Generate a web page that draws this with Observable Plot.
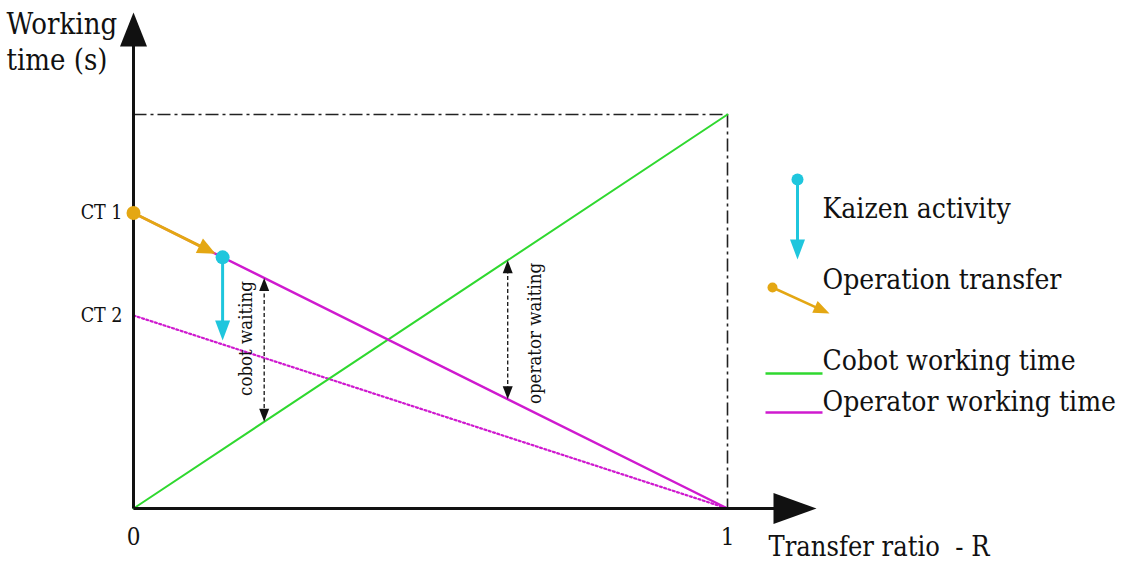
<!DOCTYPE html>
<html><head><meta charset="utf-8">
<script src="https://cdn.jsdelivr.net/npm/d3@7"></script>
<script src="https://cdn.jsdelivr.net/npm/@observablehq/plot@0.6"></script>
<style>html,body{margin:0;padding:0;background:#fff;} #chart svg{display:block;} #chart svg text{font-stretch:condensed;}</style>
</head><body><div id="chart"></div>
<script>
// ---- data ----
const xTicks = [0, 1];
const xTickLabels = ["0", "1"];
const ctNames = ["CT 1", "CT 2"];
const ctValues = [0.75, 0.49];          // cycle time before / after kaizen
const cobotTime = [0, 1];               // cobot working time at R=0, R=1
const operatorTime = [0.75, 0];         // operator working time at R=0, R=1
const improvedOperatorTime = [0.49, 0]; // after kaizen
const transferR = 0.15;                 // operation transfer point
const cobotWaitR = 0.22;
const operatorWaitR = 0.63;
const seriesNames = ["Cobot working time", "Operator working time"];
const legendNames = ["Kaizen activity", "Operation transfer"];
const waitLabels = ["cobot waiting", "operator waiting"];
const axisTitles = ["Working", "time (s)", "Transfer ratio  - R"];

// ---- style ----
const C = {cobot: "#2fd82f", operator: "#cf1acf", kaizen: "#1fc6dd", transfer: "#e4a713", ink: "#111"};
const FONT = "'DejaVu Serif Condensed', 'DejaVu Serif', serif";

// ---- scales (layout) ----
const X0 = 133, X1 = 727, Y0 = 508, Y1 = 114;
const xs = d3.scaleLinear([0, 1], [X0, X1]);
const ys = d3.scaleLinear([0, 1], [Y0, Y1]);
const lx = px => xs.invert(px), ly = px => ys.invert(px);

const opAt = r => operatorTime[0] + (operatorTime[1] - operatorTime[0]) * r;
const impAt = r => improvedOperatorTime[0] + (improvedOperatorTime[1] - improvedOperatorTime[0]) * r;
const cobAt = r => cobotTime[0] + (cobotTime[1] - cobotTime[0]) * r;

function headSymbol(len, wid) {
  return {draw(ctx) { ctx.moveTo(0, 0); ctx.lineTo(wid / 2, len); ctx.lineTo(-wid / 2, len); ctx.closePath(); }};
}
function angleOf(x1, y1, x2, y2) {
  const dx = xs(x2) - xs(x1), dy = ys(y2) - ys(y1);
  return Math.atan2(dx, -dy) * 180 / Math.PI;
}
function shorten(x1, y1, x2, y2, by) {
  const px1 = xs(x1), py1 = ys(y1), px2 = xs(x2), py2 = ys(y2);
  const L = Math.hypot(px2 - px1, py2 - py1);
  const t = (L - by) / L;
  return [xs.invert(px1 + (px2 - px1) * t), ys.invert(py1 + (py2 - py1) * t)];
}
function arrow(seg, {stroke, strokeWidth, len, wid, dash, both}) {
  const {x1, y1, x2, y2} = seg;
  let [ex, ey] = shorten(x1, y1, x2, y2, len * 0.7);
  let sx = x1, sy = y1;
  if (both) [sx, sy] = shorten(x2, y2, x1, y1, len * 0.7);
  const marks = [
    Plot.link([{a: sx, b: sy, c: ex, d: ey}], {x1: "a", y1: "b", x2: "c", y2: "d", stroke, strokeWidth, strokeDasharray: dash, strokeLinecap: "butt"}),
    Plot.dot([{x: x2, y: y2, r: angleOf(x1, y1, x2, y2)}], {x: "x", y: "y", rotate: "r", symbol: headSymbol(len, wid), fill: stroke, stroke: "none"})
  ];
  if (both) marks.push(Plot.dot([{x: x1, y: y1, r: angleOf(x2, y2, x1, y1)}], {x: "x", y: "y", rotate: "r", symbol: headSymbol(len, wid), fill: stroke, stroke: "none"}));
  return marks;
}
const seg = (x1, y1, x2, y2) => ({x1, y1, x2, y2});
const lineSeg = (vals) => [{x: 0, y: vals[0]}, {x: 1, y: vals[1]}];

const kaizenY = opAt(transferR);

const plot = Plot.plot({
  width: 1128, height: 561, margin: 0,
  x: {type: "linear", domain: [0, 1], range: [X0, X1], axis: null},
  y: {type: "linear", domain: [0, 1], range: [Y0, Y1], axis: null},
  style: {fontFamily: FONT, background: "#fff", overflow: "visible"},
  marks: [
    // dash-dot bounding lines
    Plot.link([seg(0, 1, 1, 1), seg(1, 1, 1, 0)], {x1: "x1", y1: "y1", x2: "x2", y2: "y2", stroke: "#222", strokeWidth: 1.6, strokeDasharray: "13,4,3,4"}),
    // working time lines
    Plot.line(lineSeg(improvedOperatorTime), {x: "x", y: "y", stroke: C.operator, strokeWidth: 2.2, strokeDasharray: "2,2.5"}),
    Plot.line(lineSeg(cobotTime), {x: "x", y: "y", stroke: C.cobot, strokeWidth: 2}),
    Plot.line(lineSeg(operatorTime), {x: "x", y: "y", stroke: C.operator, strokeWidth: 2.4}),
    // waiting arrows
    ...arrow(seg(cobotWaitR, opAt(cobotWaitR), cobotWaitR, cobAt(cobotWaitR)), {stroke: C.ink, strokeWidth: 1.3, len: 13, wid: 10, dash: "4,2.5", both: true}),
    ...arrow(seg(operatorWaitR, cobAt(operatorWaitR), operatorWaitR, opAt(operatorWaitR)), {stroke: C.ink, strokeWidth: 1.3, len: 13, wid: 10, dash: "4,2.5", both: true}),
    Plot.text([waitLabels[0]], {x: lx(246), y: ly(338), text: d => d, rotate: -90, fontSize: 18.5, fill: C.ink}),
    Plot.text([waitLabels[1]], {x: lx(535), y: ly(333), text: d => d, rotate: -90, fontSize: 18.5, fill: C.ink}),
    // axes with arrows
    ...arrow(seg(0, 0, 0, ly(12)), {stroke: C.ink, strokeWidth: 3, len: 34, wid: 27}),
    ...arrow(seg(0, 0, lx(816), 0), {stroke: C.ink, strokeWidth: 3, len: 43, wid: 31}),
    // operation transfer & kaizen
    ...arrow(seg(0, ctValues[0], lx(215), opAt(lx(215))), {stroke: C.transfer, strokeWidth: 3, len: 18, wid: 16}),
    ...arrow(seg(transferR, kaizenY, transferR, impAt(transferR) + 0.01), {stroke: C.kaizen, strokeWidth: 3, len: 20, wid: 15}),
    Plot.dot([{x: 0, y: ctValues[0]}], {x: "x", y: "y", r: 7, fill: C.transfer}),
    Plot.dot([{x: transferR, y: kaizenY}], {x: "x", y: "y", r: 7, fill: C.kaizen}),
    // tick labels
    Plot.text(ctNames, {x: lx(122), y: (d, i) => ctValues[i], text: d => d, textAnchor: "end", fontSize: 19.5, fill: C.ink}),
    Plot.text(xTickLabels, {x: (d, i) => xTicks[i], y: ly(537), text: d => d, fontSize: 24, fill: C.ink}),
    // axis titles
    Plot.text([axisTitles[0], axisTitles[1]], {x: lx(6), y: (d, i) => ly(24 + i * 36), text: d => d, textAnchor: "start", fontSize: 29, fill: C.ink}),
    Plot.text([axisTitles[2]], {x: lx(768), y: ly(547), text: d => d, textAnchor: "start", fontSize: 27, fill: C.ink}),
    // legend
    ...arrow(seg(lx(797), ly(179), lx(797), ly(259)), {stroke: C.kaizen, strokeWidth: 3, len: 20, wid: 15}),
    Plot.dot([0], {x: lx(797), y: ly(179), r: 6, fill: C.kaizen}),
    ...arrow(seg(lx(772), ly(287), lx(829), ly(313)), {stroke: C.transfer, strokeWidth: 2.5, len: 16, wid: 13}),
    Plot.dot([0], {x: lx(772), y: ly(287), r: 5, fill: C.transfer}),
    Plot.text(legendNames, {x: lx(822), y: (d, i) => ly([209, 280][i]), text: d => d, textAnchor: "start", fontSize: 28, fill: C.ink}),
    Plot.link(seriesNames, {x1: lx(765), x2: lx(822), y1: (d, i) => ly([373, 412][i]), y2: (d, i) => ly([373, 412][i]), stroke: (d, i) => [C.cobot, C.operator][i], strokeWidth: 2.5}),
    Plot.text(seriesNames, {x: lx(822), y: (d, i) => ly([361, 402][i]), text: d => d, textAnchor: "start", fontSize: 28, fill: C.ink})
  ]
});
document.getElementById("chart").appendChild(plot);
</script>
</body></html>
